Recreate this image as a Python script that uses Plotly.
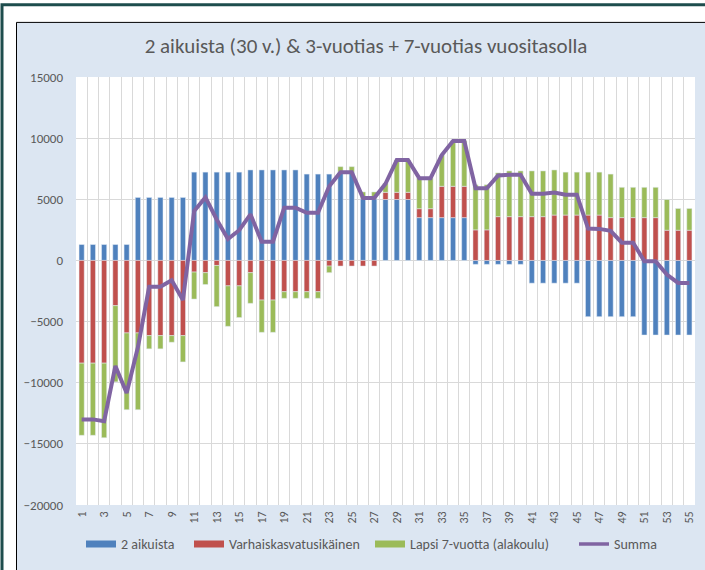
import plotly.graph_objects as go

# ---------------- data ----------------
years = list(range(1, 56))

aikuiset = [1300]*5 + [5150]*5 + [7220]*5 + [7400]*5 + [7060]*3 + [7220]*2 + \
           [5040]*2 + [4980]*3 + [3500]*5 + [-320]*5 + [-1860]*5 + [-4600]*5 + [-6100]*5

varhais = [-8400, -8400, -8400, -3700, -5930, -5930, -6150, -6150, -6150, -6150,
           -950, -1000, -410, -2080, -2080, -1000, -3240, -3240, -2560, -2560,
           -2560, -2560, -460, -460, -460, -460, -460, 590, 590, 590,
           730, 730, 2560, 2560, 2560, 2500, 2500, 3580, 3580, 3580,
           3580, 3580, 3710, 3710, 3710, 3710, 3710, 3500, 3500, 3500,
           3500, 3500, 2470, 2470, 2470]

lapsi7 = [-5900, -5900, -6100, -6230, -6280, -6280, -1080, -1080, -540, -2150,
          -2210, -970, -3370, -3310, -2590, -2510, -2640, -2640, -540, -540,
          -540, -540, -540, 450, 450, 560, 560, 750, 2640, 2640,
          2500, 2500, 2560, 3720, 3720, 3690, 3690, 3580, 3740, 3740,
          3740, 3740, 3690, 3510, 3510, 3510, 3510, 3560, 2480, 2480,
          2480, 2480, 2510, 1780, 1780]

summa = [-13000, -13000, -13150, -8630, -10840, -7100, -2160, -2160, -1620, -3240,
         4040, 5150, 3350, 1750, 2470, 3770, 1530, 1530, 4310, 4310,
         3900, 3900, 6060, 7220, 7220, 5115, 5115, 6270, 8210, 8210,
         6730, 6730, 8620, 9770, 9770, 5900, 5900, 6940, 7000, 7000,
         5460, 5460, 5560, 5380, 5380, 2610, 2580, 2420, 1450, 1450,
         -60, -60, -1160, -1840, -1840]

x_ticks = years[::2]

series_names = ["2 aikuista", "Varhaiskasvatusikäinen", "Lapsi 7-vuotta (alakoulu)", "Summa"]
series_colors = ["#4F81BD", "#C0504D", "#9BBB59", "#8064A2"]

TITLE = "2 aikuista (30 v.) & 3-vuotias + 7-vuotias vuositasolla"
FONT = "Carlito, Liberation Sans Narrow, Liberation Sans, sans-serif"
GRAY = "#595959"
GRID = "#D9D9D9"

W, H = 705, 570
L, R, T, B = 76, 10, 77, 58
PW, PH = W - L - R, H - T - B


def px(p):
    return (p - L) / PW


def py(p):
    return 1 - (p - T) / PH


fig = go.Figure()
bar_values = [aikuiset, varhais, lapsi7]
for name, color, vals in zip(series_names[:3], series_colors[:3], bar_values):
    fig.add_trace(go.Bar(x=years, y=vals, name=name, marker_color=color, showlegend=False))
fig.add_trace(go.Scatter(x=years, y=summa, name="Summa", mode="lines",
                         line=dict(color=series_colors[3], width=4), showlegend=False))

# legend entries (wide swatches, like the original)
legend_ids = ["legend", "legend2", "legend3", "legend4"]
swatch_w = [7, 7, 7, 3.5]
for name, color, lid, sw in zip(series_names, series_colors, legend_ids, swatch_w):
    fig.add_trace(go.Scatter(x=[None], y=[None], mode="lines", name=name,
                             line=dict(color=color, width=sw), legend=lid, showlegend=True))

text_starts = [121, 229, 410, 614]
legend_layout = {}
for lid, ts in zip(legend_ids, text_starts):
    legend_layout[lid] = dict(orientation="h", x=px(ts - 40), xanchor="left", y=py(552),
                              yanchor="middle", font=dict(family=FONT, size=14, color=GRAY),
                              bgcolor="rgba(0,0,0,0)", borderwidth=0)

shapes = [
    # outer frame
    dict(type="rect", xref="paper", yref="paper", x0=px(2), x1=px(712), y0=py(3.5), y1=py(580),
         line=dict(color="#1E4D4D", width=3), fillcolor="white", layer="below"),
    # chart panel
    dict(type="rect", xref="paper", yref="paper", x0=px(16.5), x1=px(712), y0=py(21.5), y1=py(580),
         line=dict(color="black", width=1), fillcolor="#DCE6F2", layer="below"),
    # plot area
    dict(type="rect", xref="paper", yref="paper", x0=0, x1=1, y0=0, y1=1,
         line=dict(width=0), fillcolor="white", layer="below"),
]

fig.update_layout(
    width=W, height=H,
    margin=dict(l=L, r=R, t=T, b=B),
    paper_bgcolor="white",
    plot_bgcolor="white",
    barmode="relative",
    bargap=0.54,
    shapes=shapes,
    font=dict(family=FONT, color=GRAY, size=13),
    title=dict(text=TITLE, x=366 / W, xanchor="center", y=1 - 46 / H, yanchor="middle",
               font=dict(family=FONT, size=21, color=GRAY)),
    xaxis=dict(range=[0.5, 55.5], tickmode="array", tickvals=x_ticks, ticktext=[str(v) for v in x_ticks],
               tickangle=-90, showgrid=False, zeroline=False, showline=False, ticks="",
               ticklabelstandoff=3, tickfont=dict(size=12, color=GRAY),
               minor=dict(tickmode="linear", tick0=0.5, dtick=1, showgrid=True, gridcolor=GRID,
                          gridwidth=1, ticks="")),
    yaxis=dict(range=[-20000, 15000], tickmode="linear", tick0=-20000, dtick=5000, tickformat="d",
               showgrid=True, gridcolor=GRID, gridwidth=1, zeroline=True, zerolinecolor=GRID,
               zerolinewidth=1, showline=False, ticks="", ticklabelstandoff=12,
               tickfont=dict(size=13, color=GRAY)),
    **legend_layout,
)

fig.write_html(
    "out.html",
    config={"displayModeBar": False},
    post_script="document.body.style.margin='0';document.body.style.overflow='hidden';",
)
